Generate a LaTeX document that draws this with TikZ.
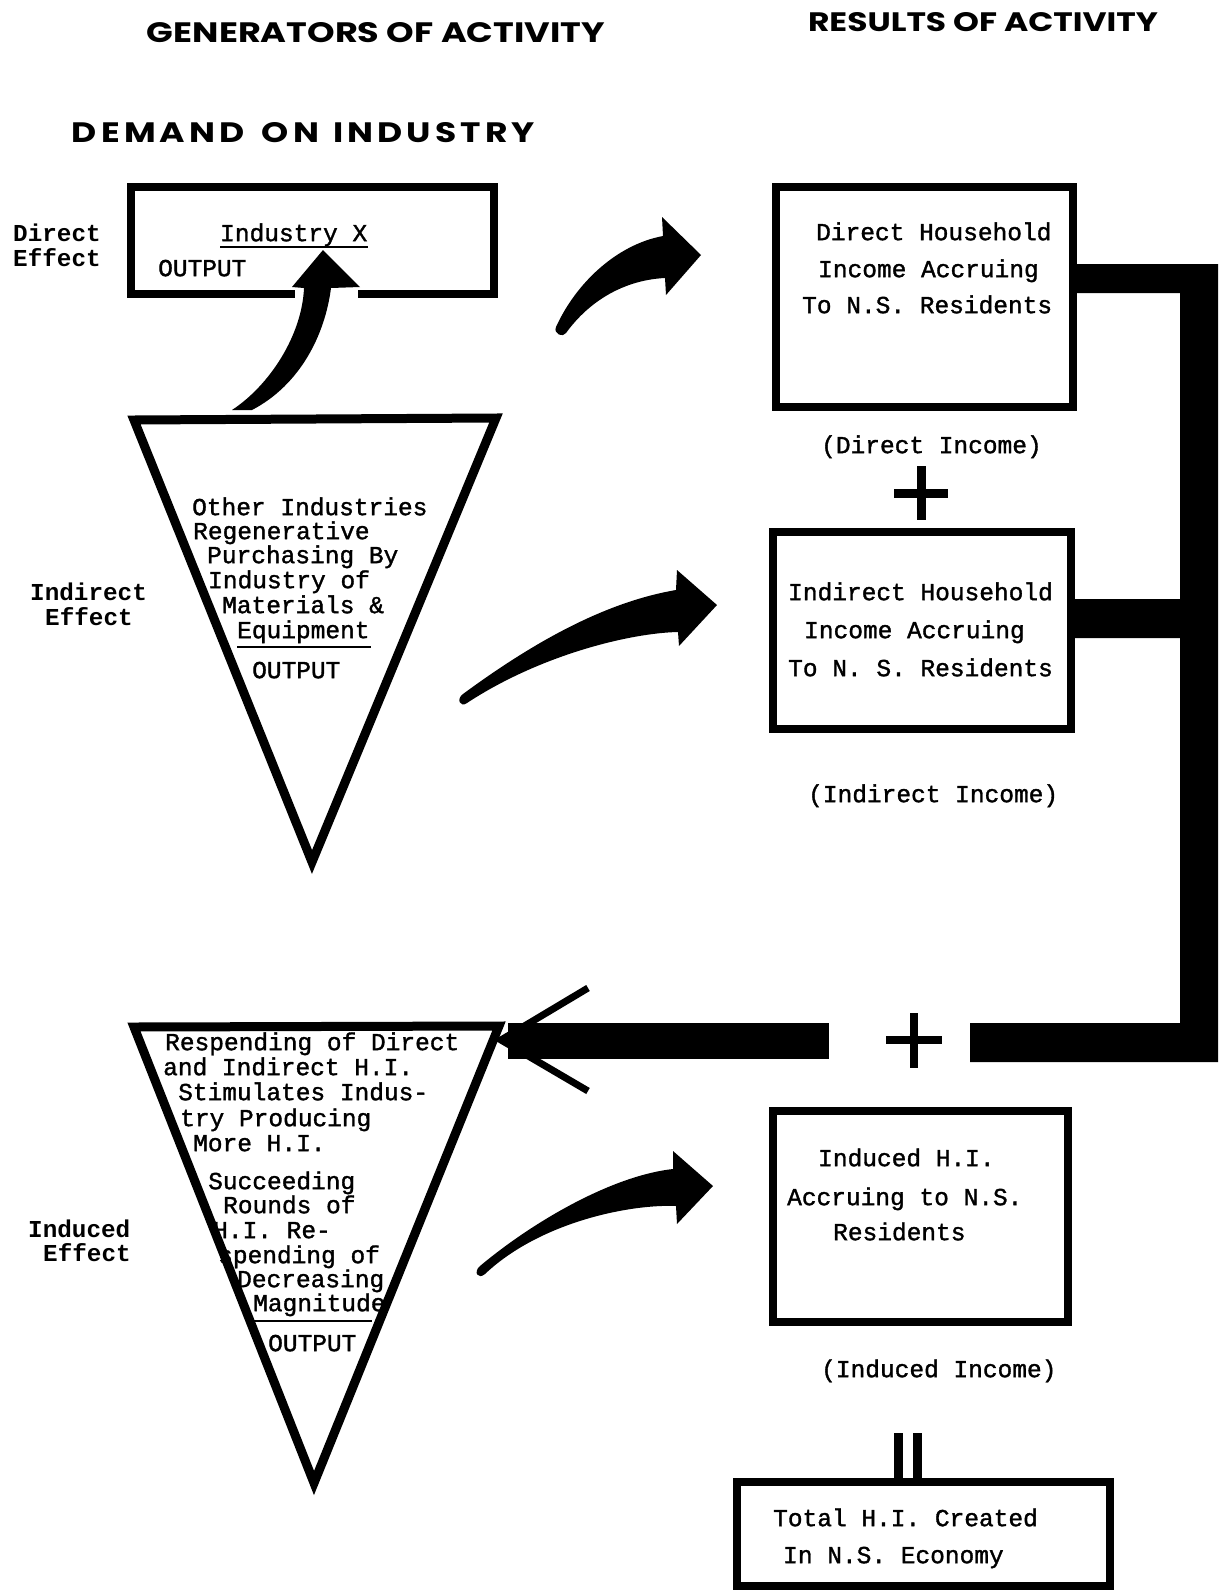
\documentclass[tikz,border=0pt]{standalone}
\usepackage{fontspec}
\newfontfamily\tw{Liberation Mono}[FakeBold=1.4]
\newfontfamily\twb{Liberation Mono}
\newfontfamily\titlefont{Poppins}
\begin{document}
\begin{tikzpicture}[x=1pt,y=-1pt,
  txt/.style={anchor=mid west, inner sep=0pt, yshift=-6pt, font=\tw\fontsize{24.5}{24.5}\selectfont},
  lbl/.style={anchor=mid west, inner sep=0pt, yshift=-6pt, font=\twb\bfseries\fontsize{24.3}{24.3}\selectfont},
  ttl/.style={anchor=center, inner sep=0pt},
  box/.style={draw, line width=8pt, rectangle, inner sep=0pt},
  tri/.style={draw, line width=9pt, line join=miter},
  blk/.style={fill=black, draw=none},
  uline/.style={line width=2pt}]
\useasboundingbox (0,0) rectangle (1222,1593);

% ---------- titles ----------
\node[ttl] (tgen) at (376,32.5) {\resizebox{458pt}{20pt}{\titlefont\bfseries GENERATORS OF ACTIVITY}};
\node[ttl] (tres) at (983,22.5) {\resizebox{350pt}{19pt}{\titlefont\bfseries RESULTS OF ACTIVITY}};
\node[ttl] (tdem) at (303.5,133) {\resizebox{463pt}{20pt}{\titlefont\bfseries\addfontfeature{LetterSpace=12}DEMAND\hspace{0.5em}ON\hspace{0.4em}INDUSTRY}};

% ---------- side labels ----------
\node[lbl] (ld1) at (13,233) {Direct};
\node[lbl] (ld2) at (13,258) {Effect};
\node[lbl] (li1) at (30,592) {Indirect};
\node[lbl] (li2) at (45,617) {Effect};
\node[lbl] (ln1) at (28,1229) {Induced};
\node[lbl] (ln2) at (43,1253) {Effect};

% ---------- boxes ----------
\node[box, minimum width=363pt, minimum height=107pt] (ix) at (312.5,240.5) {};
\node[box, minimum width=297pt, minimum height=220pt] (dbox) at (924.5,297) {};
\node[box, minimum width=298pt, minimum height=197pt] (ibox) at (922,630.5) {};
\node[box, minimum width=295pt, minimum height=211pt] (nbox) at (920.5,1216.5) {};
\node[box, minimum width=373pt, minimum height=104pt] (tbox) at (923.5,1534) {};

% gap in the Industry X box where the arrow enters
\fill[white] (295,283) rectangle (358,300);

% ---------- triangles ----------
\coordinate (t1a) at (134,420);
\coordinate (t1b) at (496,418);
\coordinate (t1c) at (312,862);
\draw[tri] (t1a) -- (t1b) -- (t1c) -- cycle;
\coordinate (t2a) at (134,1027);
\coordinate (t2b) at (499,1026);
\coordinate (t2c) at (314,1483);
\draw[tri] (t2a) -- (t2b) -- (t2c) -- cycle;

% ---------- text in Industry X box ----------
\node[txt] (ixt) at (220,233) {Industry X};
\draw[uline] (220,247) -- (368,247);
\node[txt] (ixo) at (158,268) {OUTPUT};

% ---------- text in triangle 1 ----------
\node[txt] (a1) at (192,507) {Other Industries};
\node[txt] (a2) at (193,531) {Regenerative};
\node[txt] (a3) at (207,555) {Purchasing By};
\node[txt] (a4) at (208,580) {Industry of};
\node[txt] (a5) at (222,605) {Materials \&};
\node[txt] (a6) at (237,630) {Equipment};
\draw[uline] (237,647) -- (371,647);
\node[txt] (a7) at (252,670) {OUTPUT};

% ---------- text in triangle 2 ----------
\node[txt] (b1) at (165,1042) {Respending of Direct};
\node[txt] (b2) at (163,1067) {and Indirect H.I.};
\node[txt] (b3) at (178,1092) {Stimulates Indus-};
\node[txt] (b4) at (180,1118) {try Producing};
\node[txt] (b5) at (193,1143) {More H.I.};
\node[txt] (b6) at (208,1181) {Succeeding};
\node[txt] (b7) at (223,1205) {Rounds of};
\node[txt] (b8) at (213,1230) {H.I. Re-};
\node[txt] (b9) at (218,1255) {spending of};
\node[txt] (b10) at (237,1279) {Decreasing};
\node[txt] (b11) at (253,1303) {Magnitude};
\draw[uline] (253,1321) -- (372,1321);
\node[txt] (b12) at (268,1343) {OUTPUT};

% ---------- text in right boxes ----------
\node[txt] (d1) at (816,232) {Direct Household};
\node[txt] (d2) at (818,269) {Income Accruing};
\node[txt] (d3) at (802,305) {To N.S. Residents};
\node[txt] (dc) at (821,445) {(Direct Income)};

\node[txt] (i1) at (788,592) {Indirect Household};
\node[txt] (i2) at (804,630) {Income Accruing};
\node[txt] (i3) at (788,668) {To N. S. Residents};
\node[txt] (ic) at (808,794) {(Indirect Income)};

\node[txt] (n1) at (818,1158) {Induced H.I.};
\node[txt] (n2) at (787,1197) {Accruing to N.S.};
\node[txt] (n3) at (833,1232) {Residents};
\node[txt] (nc) at (821,1369) {(Induced Income)};

\node[txt] (s1) at (773,1518) {Total H.I. Created};
\node[txt] (s2) at (783,1555) {In N.S. Economy};

% ---------- plus and equals signs ----------
\draw[line width=9pt] (894,493) -- (948,493) (921,466) -- (921,520);
\draw[line width=8pt] (886,1040) -- (942,1040) (914,1013) -- (914,1068);
\draw[line width=9pt] (898.5,1433) -- (898.5,1480) (917.5,1433) -- (917.5,1480);

% ---------- feedback band ----------
\fill[blk] (1073,264) -- (1218,264) -- (1218,1062) -- (970,1062) -- (970,1023)
  -- (1180,1023) -- (1180,638) -- (1071,638) -- (1071,599) -- (1180,599)
  -- (1180,293) -- (1073,293) -- cycle;

% ---------- return arrow into triangle 2 ----------
\fill[blk] (508,1023) rectangle (829,1059);
\draw[line width=7pt, line join=miter] (588,988) -- (501,1040) -- (588,1091);

% ---------- curved arrows ----------
% Industry X arrow
\fill[blk] (232,410) .. controls (270,385) and (302,335) .. (304,288)
  -- (292,287) -- (323,250) -- (360,287) -- (331,288)
  .. controls (325,335) and (300,385) .. (252,410) -- cycle;
% arrow A to direct income
\fill[blk] (556,327) .. controls (575,285) and (615,245) .. (663,236)
  -- (662,217) -- (701,255) -- (666,295) -- (665,278)
  .. controls (625,280) and (590,300) .. (566,333)
  .. controls (563,338) and (553,334) .. (556,327) -- cycle;
% arrow B to indirect income
\fill[blk] (463,694) .. controls (535,641) and (606,602) .. (676,590)
  -- (677,570) -- (717,605) -- (679,646) -- (678,632)
  .. controls (630,633) and (540,655) .. (467,703)
  .. controls (460,708) and (456,699) .. (463,694) -- cycle;
% arrow C to induced income
\fill[blk] (480,1266) .. controls (530,1224) and (610,1176) .. (673,1169)
  -- (673,1151) -- (713,1186) -- (677,1224) -- (676,1206)
  .. controls (630,1204) and (540,1222) .. (485,1274)
  .. controls (478,1280) and (473,1272) .. (480,1266) -- cycle;
\end{tikzpicture}
\end{document}
